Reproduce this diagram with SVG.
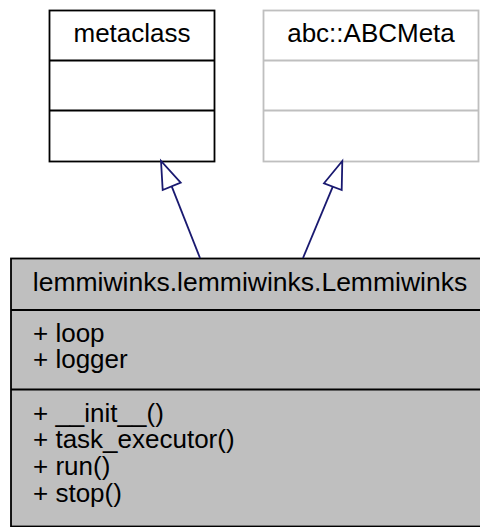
<svg xmlns="http://www.w3.org/2000/svg" width="480" height="527" viewBox="0 0 480 527">
<style>
text{font-family:"Liberation Sans",Arial,Helvetica,sans-serif;font-size:26px;fill:#000}
.c{text-anchor:middle}
.t{font-size:26.5px}
.box{fill:#fff;stroke:#000;stroke-width:1.8}
.grey{fill:#fff;stroke:#bfbfbf;stroke-width:1.8}
.main{fill:#bfbfbf;stroke:#000;stroke-width:1.8}
.edge{fill:none;stroke:#191970;stroke-width:1.8}
.head{fill:#fff;stroke:#191970;stroke-width:1.8}
</style>
<rect width="480" height="527" fill="#fff"/>
<g id="metaclass">
<rect class="box" x="49.5" y="10.5" width="165" height="151"/>
<line x1="49.5" y1="60.5" x2="214.5" y2="60.5" stroke="#000" stroke-width="1.8"/>
<line x1="49.5" y1="110.5" x2="214.5" y2="110.5" stroke="#000" stroke-width="1.8"/>
<text class="c" x="132" y="42">metaclass</text>
</g>
<g id="abcmeta">
<rect class="grey" x="263.5" y="10.5" width="215" height="151"/>
<line x1="263.5" y1="60.5" x2="478.5" y2="60.5" stroke="#bfbfbf" stroke-width="1.8"/>
<line x1="263.5" y1="110.5" x2="478.5" y2="110.5" stroke="#bfbfbf" stroke-width="1.8"/>
<text class="c" x="371" y="42">abc::ABCMeta</text>
</g>
<g id="lemmiwinks">
<rect class="main" x="11" y="258.5" width="478" height="268"/>
<line x1="11" y1="310" x2="489" y2="310" stroke="#000" stroke-width="1.8"/>
<line x1="11" y1="389.5" x2="489" y2="389.5" stroke="#000" stroke-width="1.8"/>
<text class="c t" x="250" y="291">lemmiwinks.lemmiwinks.Lemmiwinks</text>
<text x="33" y="341.5">+ loop</text>
<text x="33" y="368">+ logger</text>
<text x="33" y="421.5">+ __init__()</text>
<text x="33" y="448">+ task_executor()</text>
<text x="33" y="475">+ run()</text>
<text x="33" y="501.5">+ stop()</text>
</g>
<g id="connectors">
<path class="edge" d="M200,258 L171.7,186.3"/>
<polygon class="head" points="161,161 162.7,190 180.7,182.7"/>
<path class="edge" d="M303,258 L332.8,186.7"/>
<polygon class="head" points="342.3,161 324,183.3 341.7,190"/>
</g>
</svg>
